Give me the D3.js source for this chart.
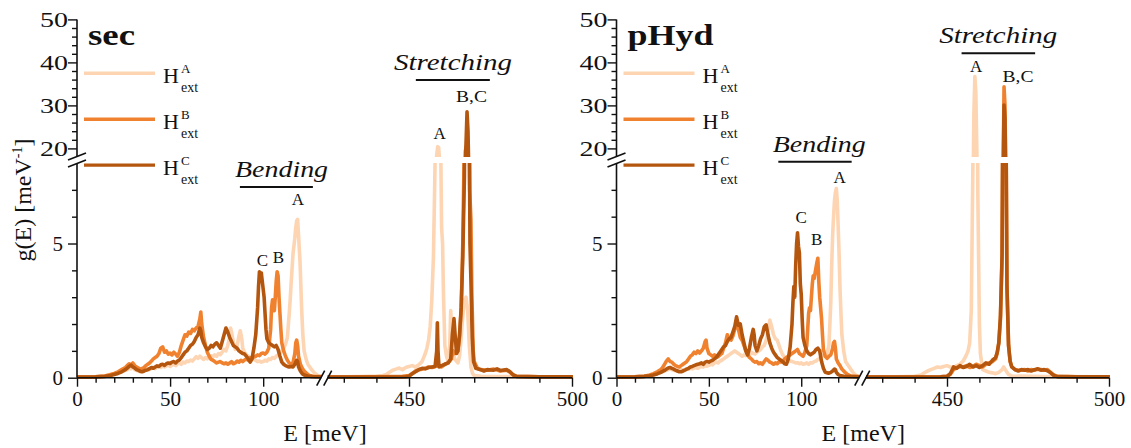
<!DOCTYPE html>
<html><head><meta charset="utf-8">
<script src="https://cdn.jsdelivr.net/npm/d3@7"></script>
<style>
body{margin:0;background:#fff}
svg{display:block}
text{font-family:"Liberation Serif","Times New Roman",serif;fill:#111}
</style>
</head><body>
<svg id="c" width="1131" height="448"></svg>
<script>
// ---------------- DATA ----------------
const seriesKeys = ["A","B","C"];
const panelTitles = ["sec","pHyd"];
const yTicksLowMajor = [0,5];
const yTicksLowMinor = [1,2,3,4,6,7];
const yTicksUpMajor = [20,30,40,50];
const yTicksUpMinor = [22,24,26,28,32,34,36,38,42,44,46,48];
const xTicksBendMajor = [0,50,100];
const xTicksBendMinor = [10,20,30,40,60,70,80,90,110,120];
const xTicksStrMajor = [450,500];
const xTicksStrMinor = [430,440,460,470,480,490];

// sec – bending region [E meV, g(E)]
const secA_bend = [[0,.02],[5,.02],[10,.03],[15,.06],[18,.1],[20,.14],[22,.18],[24,.22],[26,.28],[27,.3],[28,.36],[29,.33],[30,.38],[31,.3],[32,.27],[33,.25],[34,.22],[35,.24],[36,.27],[37,.3],[38,.33],[39,.3],[40,.36],[41,.38],[42,.34],[43,.4],[44,.42],[45,.38],[46,.45],[47,.4],[48,.44],[49,.48],[50,.42],[51,.47],[52,.5],[53,.45],[54,.52],[55,.55],[56,.5],[57,.58],[58,.55],[59,.62],[60,.6],[61,.66],[62,.62],[63,.7],[64,.78],[65,.72],[66,.8],[67,.74],[68,.68],[69,.75],[70,.7],[71,.76],[72,.82],[73,.78],[74,.85],[75,.8],[76,.9],[77,.86],[78,.95],[79,1.05],[80,1.0],[81,1.2],[82,1.5],[82.5,1.85],[83,1.7],[84,1.3],[85,1.05],[86,1.2],[87,1.55],[87.7,1.75],[88.5,1.45],[89,1.1],[90,.95],[91,.85],[92,.8],[93,.72],[94,.68],[95,.7],[96,.64],[97,.6],[98,.62],[99,.58],[100,.6],[101,.65],[102,.62],[103,.7],[104,.68],[105,.75],[106,.72],[107,.8],[108,.85],[109,.9],[110,1.0],[111,1.1],[112,1.25],[113,1.5],[114,2.4],[114.5,2.9],[115,3.5],[116,4.6],[117,5.2],[117.5,5.6],[118,5.85],[118.5,5.9],[119,5.3],[119.8,4.3],[120.3,3.3],[120.7,2.5],[121.3,1.6],[122,1.0],[123,.7],[124,.5],[125,.4],[126,.3],[127,.22],[128,.15],[129,.1],[130,.06],[131,.05]];
const secB_bend = [[0,.02],[5,.02],[10,.03],[15,.06],[18,.12],[20,.16],[22,.22],[24,.3],[26,.38],[27,.45],[28,.52],[29,.48],[30,.55],[31,.45],[32,.4],[33,.36],[34,.32],[35,.34],[36,.38],[37,.45],[38,.5],[39,.55],[40,.62],[41,.7],[42,.75],[43,.8],[44,.9],[45,1.1],[46,1.15],[47,.95],[48,1.0],[49,.88],[50,.92],[51,.85],[52,.95],[53,.88],[54,.8],[55,.95],[56,1.2],[57,1.4],[58,1.6],[59,1.55],[60,1.7],[61,1.65],[62,1.8],[63,1.75],[64,1.85],[65,1.9],[66,2.2],[66.5,2.45],[67,2.0],[68,1.5],[69,1.2],[70,.95],[71,.8],[72,.68],[73,.65],[74,.6],[75,.55],[76,.58],[77,.6],[78,.55],[79,.52],[80,.55],[81,.5],[82,.55],[83,.6],[84,.52],[85,.55],[86,.62],[87,.58],[88,.65],[89,.6],[90,.66],[91,.7],[92,.65],[93,.75],[94,.72],[95,.78],[96,.8],[97,.85],[98,.82],[99,.9],[100,.92],[101,.88],[102,.95],[103,1.1],[104,1.8],[104.5,2.6],[105,2.9],[105.5,2.7],[106,2.5],[106.5,3.0],[107,3.6],[107.5,3.95],[108,3.8],[108.5,3.0],[109,2.4],[109.5,1.8],[110,1.3],[111,1.0],[112,.8],[113,.65],[114,.55],[115,.5],[116,.55],[117,.9],[117.5,1.3],[118,1.4],[118.5,1.2],[119,.8],[120,.5],[121,.35],[122,.25],[123,.18],[124,.12],[125,.08],[127,.05],[131,.04]];
const secC_bend = [[0,.02],[5,.02],[10,.03],[15,.05],[18,.08],[20,.12],[22,.16],[24,.22],[26,.3],[27,.36],[28,.42],[29,.47],[30,.4],[31,.36],[32,.3],[33,.27],[34,.24],[35,.22],[36,.25],[37,.28],[38,.3],[39,.34],[40,.38],[41,.35],[42,.4],[43,.44],[44,.42],[45,.48],[46,.5],[47,.46],[48,.52],[49,.55],[50,.53],[51,.58],[52,.6],[53,.55],[54,.62],[55,.66],[56,.75],[57,.85],[58,.95],[59,1.0],[60,1.1],[61,1.2],[62,1.25],[63,1.35],[64,1.5],[65,1.6],[66,1.85],[66.5,1.75],[67,1.5],[68,1.3],[69,1.15],[70,1.05],[71,1.1],[72,1.2],[73,1.15],[74,1.25],[75,1.3],[76,1.2],[77,1.1],[78,1.35],[79,1.6],[80,1.85],[81,1.7],[82,1.5],[83,1.35],[84,1.2],[85,1.15],[86,1.1],[87,1.0],[88,.95],[89,.9],[90,.88],[91,.8],[92,.7],[93,.58],[94,.7],[95,1.1],[96,1.6],[97,2.6],[97.5,3.4],[98,3.95],[98.5,3.8],[99,3.9],[99.5,3.6],[100,3.3],[100.5,3.0],[101,2.4],[101.5,1.8],[102,1.45],[103,1.3],[104,1.25],[105,1.2],[106,1.15],[107,1.2],[108,1.05],[109,.8],[110,.58],[111,.5],[112,.45],[113,.42],[114,.4],[115,.42],[116,.4],[117,.5],[118,.65],[118.5,.6],[119,.4],[120,.25],[121,.15],[122,.1],[124,.06],[126,.04],[131,.03]];
// sec – stretching region
const secA_str = [[425,.02],[430,.03],[435,.04],[440,.06],[442,.08],[443,.12],[444,.2],[445,.28],[446,.32],[447,.36],[448,.3],[449,.38],[450,.42],[451,.45],[452,.4],[453,.48],[454,.6],[455,.9],[455.5,1.1],[456,1.4],[456.5,1.9],[457,2.9],[457.5,4.5],[458,8.0],[458.5,18.5],[458.8,20.4],[459.1,20.2],[459.4,17],[459.7,9],[460,5.6],[460.3,5.0],[460.6,3.0],[461,1.2],[461.5,.8],[462,.6],[462.5,1.2],[462.8,2.5],[463.1,1.8],[463.5,1.0],[464,.7],[465,.55],[465.5,.8],[466,1.5],[466.5,2.3],[467,2.9],[467.5,3.0],[468,2.5],[468.5,1.2],[469,.4],[469.5,.15],[470,.08],[472,.05],[480,.04],[490,.03],[500,.03]];
const secB_str = [[425,.02],[440,.03],[448,.05],[450,.08],[451,.15],[452,.25],[453,.3],[454,.32],[455,.35],[456,.4],[457,.38],[458,.42],[459,.45],[460,.4],[461,.5],[462,.55],[463,.7],[463.5,1.0],[464,.9],[465,1.0],[465.5,1.5],[466,2.5],[466.5,5.0],[467,9],[467.3,19.5],[467.7,20.8],[468,20.3],[468.3,12],[468.6,7.0],[469,5.9],[469.3,3.0],[469.7,1.0],[470,.6],[471,.35],[472,.3],[474,.28],[476,.32],[478,.25],[480,.28],[481,.2],[482,.1],[483,.05],[490,.03],[500,.03]];
const secC_str = [[425,.02],[440,.02],[449,.03],[450,.05],[451,.15],[452,.22],[453,.3],[454,.35],[455,.33],[456,.38],[457,.4],[458,.42],[458.5,1.0],[458.7,2.05],[458.9,1.0],[459.2,.4],[460,.45],[461,.5],[462,.55],[462.8,.7],[463.3,1.6],[463.8,2.2],[464.2,1.5],[464.6,.9],[465,1.0],[465.5,1.6],[466,2.6],[466.5,4.5],[467,7.5],[467.4,19],[467.8,28.5],[468.1,24],[468.4,12],[468.7,5],[469,3.6],[469.4,1.5],[469.8,.6],[470.5,.35],[472,.3],[473,.25],[474,.3],[476,.28],[477,.33],[478,.27],[480,.3],[481,.22],[482,.1],[483,.05],[490,.03],[500,.03]];

// pHyd – bending region
const phA_bend = [[0,.02],[10,.03],[15,.05],[18,.08],[20,.12],[22,.16],[24,.2],[26,.25],[28,.3],[29,.33],[30,.3],[31,.28],[32,.26],[33,.24],[34,.27],[35,.3],[36,.28],[37,.3],[38,.33],[39,.31],[40,.35],[41,.33],[42,.36],[43,.38],[44,.35],[45,.4],[46,.42],[47,.4],[48,.45],[49,.43],[50,.46],[51,.5],[52,.48],[53,.55],[54,.58],[55,.55],[56,.62],[57,.65],[58,.7],[59,.75],[60,.8],[61,.85],[62,.9],[63,.95],[64,1.0],[65,.95],[66,.9],[67,.85],[68,.8],[69,.85],[70,.82],[71,.9],[72,.85],[73,.95],[74,.9],[75,.88],[76,.95],[77,1.0],[78,1.05],[79,1.15],[80,1.2],[81,1.4],[82,1.7],[83,2.15],[84,1.9],[85,1.6],[86,1.45],[87,1.4],[88,1.2],[89,1.0],[90,.85],[91,.75],[92,.7],[93,.65],[94,.62],[95,.6],[96,.58],[97,.55],[98,.56],[99,.52],[100,.55],[101,.5],[102,.52],[103,.55],[104,.5],[105,.56],[106,.55],[107,.6],[108,.62],[109,.68],[110,.72],[111,.8],[112,.85],[113,.88],[114,.9],[115,1.2],[115.5,2.0],[116,2.8],[116.5,4.2],[117,5.3],[117.5,6.0],[118,6.6],[118.5,6.9],[119,7.05],[119.5,6.6],[120,5.6],[120.5,4.6],[121,3.3],[121.5,2.4],[122,1.6],[123,1.0],[124,.6],[125,.5],[126,.4],[127,.3],[128,.2],[129,.12],[130,.08],[131,.05]];
const phB_bend = [[0,.02],[10,.03],[15,.05],[18,.1],[20,.15],[22,.22],[24,.3],[25,.38],[26,.5],[27,.62],[28,.7],[29,.6],[30,.58],[31,.5],[32,.45],[33,.42],[34,.4],[35,.45],[36,.5],[37,.55],[38,.6],[39,.7],[40,.8],[41,.85],[42,.95],[43,.9],[44,1.0],[45,.92],[46,1.0],[47,1.1],[48,1.35],[48.5,1.4],[49,1.1],[50,.9],[51,.85],[52,.8],[53,.85],[54,.8],[55,.78],[56,.85],[57,.9],[58,1.1],[59,1.3],[60,1.6],[61,1.45],[62,1.4],[63,1.55],[64,1.8],[65,2.0],[65.5,2.1],[66,1.8],[67,1.5],[68,1.4],[69,1.2],[70,1.0],[71,.85],[72,.75],[73,.7],[74,.62],[75,.58],[76,.6],[77,.52],[78,.55],[79,.5],[80,.6],[81,.7],[82,.65],[83,.58],[84,.55],[85,.5],[86,.55],[87,.52],[88,.6],[89,.58],[90,.62],[91,.7],[92,.75],[93,.8],[94,.85],[95,.9],[96,.95],[97,1.0],[98,1.05],[99,.9],[100,.85],[101,.8],[102,.95],[103,1.2],[103.5,1.8],[104,2.4],[104.5,2.6],[105,2.5],[105.5,3.0],[106,3.5],[106.5,3.8],[107,3.7],[107.5,3.9],[108,4.1],[108.5,4.3],[109,4.45],[109.5,3.6],[110,3.0],[110.5,2.6],[111,2.2],[111.5,1.6],[112,1.05],[113,.8],[114,.72],[115,.8],[116,.85],[117,1.1],[117.5,1.3],[118,1.35],[118.5,1.1],[119,.7],[120,.55],[121,.45],[122,.32],[123,.25],[124,.18],[125,.12],[127,.06],[131,.04]];
const phC_bend = [[0,.02],[10,.03],[15,.05],[18,.07],[20,.1],[22,.14],[24,.2],[26,.27],[27,.32],[28,.36],[29,.38],[30,.35],[31,.32],[32,.28],[33,.25],[34,.22],[35,.22],[36,.25],[37,.28],[38,.32],[39,.35],[40,.4],[41,.42],[42,.45],[43,.48],[44,.5],[45,.52],[46,.55],[47,.5],[48,.58],[49,.6],[50,.58],[51,.62],[52,.65],[53,.7],[54,.75],[55,.85],[56,.95],[57,1.05],[58,1.15],[59,1.2],[60,1.35],[61,1.45],[62,1.5],[63,1.7],[64,1.9],[65,2.27],[65.5,2.1],[66,1.95],[67,2.0],[68,1.6],[69,1.3],[70,1.0],[71,.85],[72,1.1],[73,1.5],[74,1.8],[74.5,1.6],[75,1.2],[76,1.0],[77,1.2],[78,1.45],[79,1.6],[80,1.9],[81,1.97],[82,1.6],[83,1.3],[84,1.1],[85,.95],[86,.85],[87,.75],[88,.7],[89,.65],[90,.6],[91,.52],[92,.5],[93,.7],[94,1.15],[95,2.0],[95.5,2.8],[96,3.4],[96.5,3.0],[97,4.2],[97.5,5.0],[98,5.4],[98.5,4.9],[99,4.65],[99.5,3.5],[100,3.1],[100.5,2.2],[101,1.5],[102,1.2],[103,1.0],[104,.9],[105,.85],[106,.9],[107,.95],[108,1.05],[109,1.1],[110,1.0],[111,.6],[112,.35],[113,.2],[114,.18],[115,.17],[116,.2],[117,.25],[118,.32],[118.5,.3],[119,.2],[120,.12],[121,.08],[123,.05],[131,.03]];
// pHyd – stretching region
const phA_str = [[425,.02],[435,.03],[440,.05],[442,.1],[443,.18],[444,.25],[445,.3],[446,.35],[447,.4],[448,.38],[449,.42],[450,.45],[451,.4],[452,.38],[453,.45],[454,.5],[455,.62],[456,.85],[456.5,1.0],[457,1.3],[457.5,2.5],[458,8.0],[458.3,28],[458.6,36.7],[458.9,33],[459.2,20],[459.5,7.0],[460,2.0],[460.3,.9],[461,.3],[462,.25],[463,.2],[464,.18],[465,.15],[466,.2],[467,.3],[467.5,.4],[468,.3],[469,.12],[470,.06],[480,.04],[500,.03]];
const phB_str = [[425,.02],[440,.02],[448,.03],[450,.05],[451,.12],[452,.3],[453,.38],[454,.42],[455,.4],[456,.45],[457,.38],[458,.42],[459,.5],[460,.45],[461,.4],[462,.5],[463,.55],[464,.6],[465,.7],[465.5,.9],[466,1.3],[466.5,2.2],[467,4.5],[467.3,12],[467.6,34.3],[467.9,30],[468.2,10],[468.5,3.5],[469,1.2],[469.5,.6],[470,.4],[471,.3],[472,.28],[474,.3],[475,.25],[476,.3],[477,.28],[478,.32],[479,.3],[480,.28],[481,.3],[482,.2],[483,.1],[484,.05],[490,.03],[500,.03]];
const phC_str = [[425,.02],[440,.02],[448,.03],[450,.05],[451,.15],[452,.4],[453,.35],[454,.45],[455,.38],[456,.42],[457,.5],[458,.4],[459,.45],[460,.38],[461,.45],[462,.55],[463,.5],[464,.65],[465,.75],[465.5,.95],[466,1.3],[466.5,2.3],[467,4.6],[467.3,11],[467.6,30.1],[467.9,27],[468.2,9.5],[468.5,3.4],[469,1.2],[469.5,.6],[470,.4],[471,.3],[472,.25],[473,.3],[474,.28],[475,.3],[476,.25],[477,.3],[478,.33],[479,.28],[480,.3],[481,.26],[482,.18],[483,.08],[484,.04],[490,.03],[500,.03]];

// ---------------- LAYOUT ----------------
const colors = {A:"#fdd5b3", B:"#f0822f", C:"#b5560f"};
const svg = d3.select("#c");
const yLow = d3.scaleLinear().domain([0,8]).range([377.7,163]);
const yUp  = d3.scaleLinear().domain([18,50]).range([157,19.4]);
const yBase = yLow(0);

const panels = [
  {title:panelTitles[0], ax:77, bend:[0,131,77,320.9], str:[425,500,327.5,572],
   bendData:{A:secA_bend,B:secB_bend,C:secC_bend}, strData:{A:secA_str,B:secB_str,C:secC_str},
   titleLen:47,
   ann:{bend:{wE:84.9,wy:177,ul:[87.5,126.7,187],A:[118.7,205],C:[99.6,266],B:[108.2,263]},
        str:{wE:445.4,wy:70,ul:[452.1,474.8,80],A:[459.4,139.3],BC:[469.2,101.7]}}},
  {title:panelTitles[1], ax:616.5, bend:[0,131,616.5,858.5], str:[425,500,866,1109],
   bendData:{A:phA_bend,B:phB_bend,C:phC_bend}, strData:{A:phA_str,B:phB_str,C:phC_str},
   titleLen:86,
   ann:{bend:{wE:84.6,wy:152,ul:[87.6,127.3,161.7],A:[120.8,182.7],C:[99.9,222.7],B:[108.4,245]},
        str:{wE:447.6,wy:43.3,ul:[454.5,477.2,53.3],A:[459.0,71.7],BC:[471.9,81.7]}}}
];

const defs = svg.append("defs");
let clipId = 0;
function clipRect(x0,x1,y0,y1){
  const id = "clip"+(clipId++);
  defs.append("clipPath").attr("id",id).append("rect")
    .attr("x",x0).attr("y",y0).attr("width",x1-x0).attr("height",y1-y0);
  return "url(#"+id+")";
}

panels.forEach((p,pi)=>{
  const xb = d3.scaleLinear().domain([p.bend[0],p.bend[1]]).range([p.bend[2],p.bend[3]]);
  const xs = d3.scaleLinear().domain([p.str[0],p.str[1]]).range([p.str[2],p.str[3]]);
  const g = svg.append("g");

  // curves
  const cells = [
    {x:xb, data:p.bendData, xr:[p.bend[2],p.bend[3]]},
    {x:xs, data:p.strData,  xr:[p.str[2],p.str[3]]}
  ];
  cells.forEach(cell=>{
    [{y:yLow, yr:[163,381]},{y:yUp, yr:[16,157]}].forEach(lev=>{
      const cg = g.append("g").attr("clip-path", clipRect(cell.xr[0],cell.xr[1]+1,lev.yr[0],lev.yr[1]));
      const line = d3.line().x(d=>cell.x(d[0])).y(d=>lev.y(d[1]));
      seriesKeys.forEach(k=>{
        cg.append("path").datum(cell.data[k]).attr("d",line)
          .attr("fill","none").attr("stroke",colors[k]).attr("stroke-width",3.6)
          .attr("stroke-linejoin","round").attr("stroke-linecap","round");
      });
    });
  });

  const ax = p.ax;
  const font = "'Liberation Serif','Times New Roman',serif";
  // x axis line
  g.append("line").attr("x1",ax).attr("x2",p.str[3]).attr("y1",yBase).attr("y2",yBase)
    .attr("stroke","#111").attr("stroke-width",1.6);
  // y axis line
  g.append("line").attr("x1",ax).attr("x2",ax).attr("y1",yUp(50)).attr("y2",yBase)
    .attr("stroke","#111").attr("stroke-width",1.6);

  function styleAxis(sel){
    sel.select(".domain").remove();
    sel.selectAll("line").attr("stroke","#111").attr("stroke-width",1.4);
    sel.selectAll("text").attr("font-family",font).attr("font-size",21).attr("fill","#111");
  }
  // x axes
  [[xb,xTicksBendMajor,xTicksBendMinor],[xs,xTicksStrMajor,xTicksStrMinor]].forEach(([sc,maj,min])=>{
    g.append("g").attr("transform",`translate(0,${yBase})`)
      .call(d3.axisBottom(sc).tickValues(maj).tickSize(9).tickPadding(4)).call(styleAxis);
    g.append("g").attr("transform",`translate(0,${yBase})`)
      .call(d3.axisBottom(sc).tickValues(min).tickSize(5).tickFormat("")).call(styleAxis);
  });
  // y axes
  g.append("g").attr("transform",`translate(${ax},0)`)
    .call(d3.axisLeft(yLow).tickValues(yTicksLowMajor).tickSize(9).tickPadding(5)).call(styleAxis);
  g.append("g").attr("transform",`translate(${ax},0)`)
    .call(d3.axisLeft(yLow).tickValues(yTicksLowMinor).tickSize(5).tickFormat("")).call(styleAxis);
  g.append("g").attr("transform",`translate(${ax},0)`)
    .call(d3.axisLeft(yUp).tickValues(yTicksUpMajor).tickSize(9).tickPadding(0)).call(styleAxis)
    .selectAll("text").attr("textLength",28).attr("lengthAdjust","spacingAndGlyphs");
  g.append("g").attr("transform",`translate(${ax},0)`)
    .call(d3.axisLeft(yUp).tickValues(yTicksUpMinor).tickSize(5).tickFormat("")).call(styleAxis);

  // y break marks
  const yb = (yUp.range()[0] + yLow.range()[1]) / 2;
  g.append("rect").attr("x",ax-2).attr("y",yb-3).attr("width",4).attr("height",6).attr("fill","#fff");
  [yb-3.5, yb+3.5].forEach(c=>{
    g.append("line").attr("x1",ax-9).attr("y1",c+3.6).attr("x2",ax+9).attr("y2",c-3.6)
      .attr("stroke","#111").attr("stroke-width",1.6);
  });
  // x break marks
  const xbk = (p.bend[3] + p.str[2]) / 2;
  g.append("rect").attr("x",xbk-3).attr("y",yBase-2).attr("width",6).attr("height",4).attr("fill","#fff");
  [xbk-3.5, xbk+3.5].forEach(c=>{
    g.append("line").attr("x1",c-4).attr("y1",yBase+8).attr("x2",c+4).attr("y2",yBase-7)
      .attr("stroke","#111").attr("stroke-width",1.6);
  });

  // title
  g.append("text").attr("x",ax+11).attr("y",45).attr("font-size",29).attr("font-weight","bold")
    .attr("textLength",p.titleLen).attr("lengthAdjust","spacingAndGlyphs").text(p.title);

  // legend
  seriesKeys.forEach((k,i)=>{
    const ly = 73.3 + i*45.9;
    g.append("line").attr("x1",ax+7).attr("x2",ax+78).attr("y1",ly).attr("y2",ly)
      .attr("stroke",colors[k]).attr("stroke-width",3.4);
    g.append("text").attr("x",ax+86).attr("y",ly+10).attr("font-size",22).text("H");
    g.append("text").attr("x",ax+104).attr("y",ly-0.5).attr("font-size",13).text(k);
    g.append("text").attr("x",ax+104).attr("y",ly+18.5).attr("font-size",14).text("ext");
  });

  // annotations
  const a = p.ann;
  g.append("text").attr("x",xb(a.bend.wE)).attr("y",a.bend.wy).attr("font-size",24).attr("font-style","italic")
    .attr("textLength",93).attr("lengthAdjust","spacingAndGlyphs").text("Bending");
  g.append("line").attr("x1",xb(a.bend.ul[0])).attr("x2",xb(a.bend.ul[1])).attr("y1",a.bend.ul[2]).attr("y2",a.bend.ul[2])
    .attr("stroke","#111").attr("stroke-width",2);
  [["A",a.bend.A],["C",a.bend.C],["B",a.bend.B]].forEach(([t,pos])=>{
    g.append("text").attr("x",xb(pos[0])).attr("y",pos[1]).attr("font-size",17).attr("text-anchor","middle").text(t);
  });
  g.append("text").attr("x",xs(a.str.wE)).attr("y",a.str.wy).attr("font-size",24).attr("font-style","italic")
    .attr("textLength",118).attr("lengthAdjust","spacingAndGlyphs").text("Stretching");
  g.append("line").attr("x1",xs(a.str.ul[0])).attr("x2",xs(a.str.ul[1])).attr("y1",a.str.ul[2]).attr("y2",a.str.ul[2])
    .attr("stroke","#111").attr("stroke-width",2);
  g.append("text").attr("x",xs(a.str.A[0])).attr("y",a.str.A[1]).attr("font-size",17).attr("text-anchor","middle").text("A");
  g.append("text").attr("x",xs(a.str.BC[0])).attr("y",a.str.BC[1]).attr("font-size",17).attr("text-anchor","middle")
    .attr("textLength",31).attr("lengthAdjust","spacingAndGlyphs").text("B,C");

  // x axis title
  const cx = (ax + p.str[3]) / 2 + 0.5;
  g.append("text").attr("x",cx).attr("y",441).attr("font-size",24).attr("text-anchor","middle").text("E [meV]");
});

// y axis title
const yl = svg.append("text").attr("transform","translate(31,200) rotate(-90)")
  .attr("font-size",24).attr("text-anchor","middle");
yl.append("tspan").text("g(E) [meV");
yl.append("tspan").attr("font-size",14).attr("dy",-9).text("-1");
yl.append("tspan").attr("dy",9).text("]");
</script>
</body></html>
